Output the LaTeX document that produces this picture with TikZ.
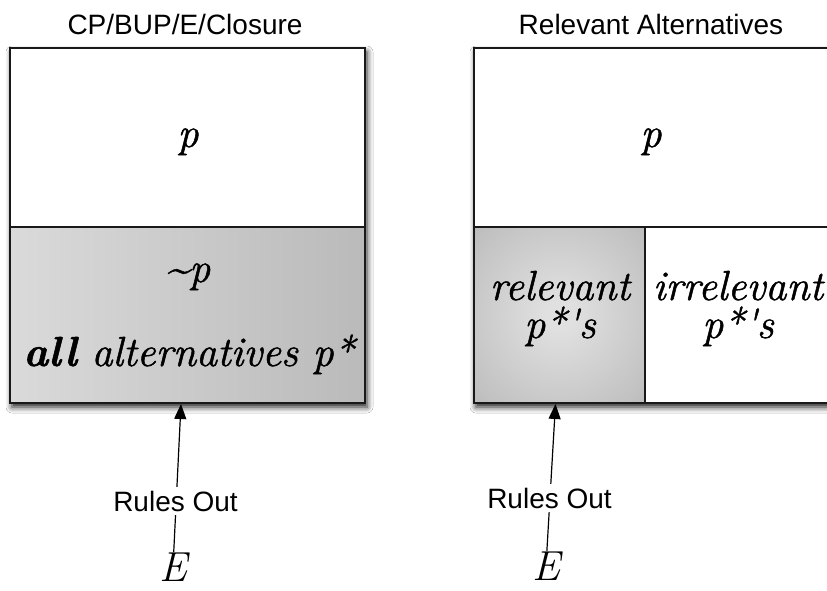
\documentclass[tikz,border=0pt]{standalone}
\usepackage{fontspec}
\newfontfamily\labelfont{Liberation Sans}
\newfontfamily\cellfont[FakeBold=1.2]{Latin Modern Roman}
\usetikzlibrary{shadows.blur,arrows.meta}

\definecolor{shadeLeft}{RGB}{218,218,218}
\definecolor{shadeRight}{RGB}{186,186,186}
\definecolor{shadeInner}{RGB}{224,224,224}
\definecolor{shadeOuter}{RGB}{188,188,188}

% soft radial glow for the relevant-alternatives cell
\pgfdeclareradialshading{softglow}{\pgfpoint{0bp}{0bp}}{%
  color(0bp)=(shadeInner); color(4bp)=(shadeInner);
  color(36bp)=(shadeOuter); color(50bp)=(shadeOuter)}

\begin{document}
\begin{tikzpicture}[x=1pt,y=-1pt,
  boxline/.style={draw=black!90, line width=1.6pt},
  boxback/.style={fill=white, blur shadow={shadow xshift=2pt, shadow yshift=-4pt,
      shadow blur radius=6pt, shadow opacity=90}},
  bigit/.style={font=\cellfont\fontsize{42}{42}\selectfont\itshape, inner sep=0pt, anchor=base},
  evid/.style={font=\fontsize{42}{42}\selectfont\itshape, inner sep=0pt, anchor=base},
  caption/.style={font=\labelfont\fontsize{28}{32}\selectfont, inner sep=0pt},
  ruleslabel/.style={font=\labelfont\fontsize{28}{32}\selectfont, fill=white, inner sep=4pt},
  ruleline/.style={line width=1.2pt},
  rulearrow/.style={ruleline, -{Triangle[length=15pt,width=12pt,fill=black]}}]

\useasboundingbox (0,0) rectangle (827,591);
\clip (0,0) rectangle (827,591);
\fill[white] (0,0) rectangle (827,591);

% ---- left panel: CP/BUP/E/Closure
\path[boxback] (10,48) rectangle (365,403);
\shade[left color=shadeLeft, right color=shadeRight] (10,227) rectangle (365,403);
\draw[boxline] (10,48) rectangle (365,403);
\draw[boxline] (10,227) -- (365,227);

\node[caption] (titleL) at (185,24) {CP/BUP/E/Closure};
\node[bigit] (pL) at (188,147) {p};
\node[bigit] (notp) at (188,282) {\textasciitilde p};
\node[bigit] (allalt) at (189,366) {\textbf{all} alternatives p*};

% ---- right panel: Relevant Alternatives
\path[boxback] (474,48) rectangle (829,403);
\shade[shading=softglow] (474,227) rectangle (645,403);
\draw[boxline] (474,48) rectangle (829,403);
\draw[boxline] (474,227) -- (829,227);
\draw[boxline] (645,227) -- (645,403);

\node[caption] (titleR) at (651,24) {Relevant Alternatives};
\node[bigit] (pR) at (651,147) {p};
\node[bigit] (relA) at (560,300) {relevant};
\node[bigit] (relB) at (560,338) {p*\textquotesingle s};
\node[bigit] (irrA) at (738,300) {irrelevant};
\node[bigit] (irrB) at (738,338) {p*\textquotesingle s};

% ---- evidence arrows
\node[evid] (EL) at (173,581) {E};
\coordinate (tipL) at (181,404);
\draw[rulearrow] (EL) -- (tipL);
\node[ruleslabel] (roL) at (175.5,501) {Rules Out};

\node[evid] (ER) at (546,580) {E};
\coordinate (tipR) at (555.5,404);
\draw[rulearrow] (ER) -- (tipR);
\node[ruleslabel] (roR) at (549.5,498) {Rules Out};
\end{tikzpicture}
\end{document}
